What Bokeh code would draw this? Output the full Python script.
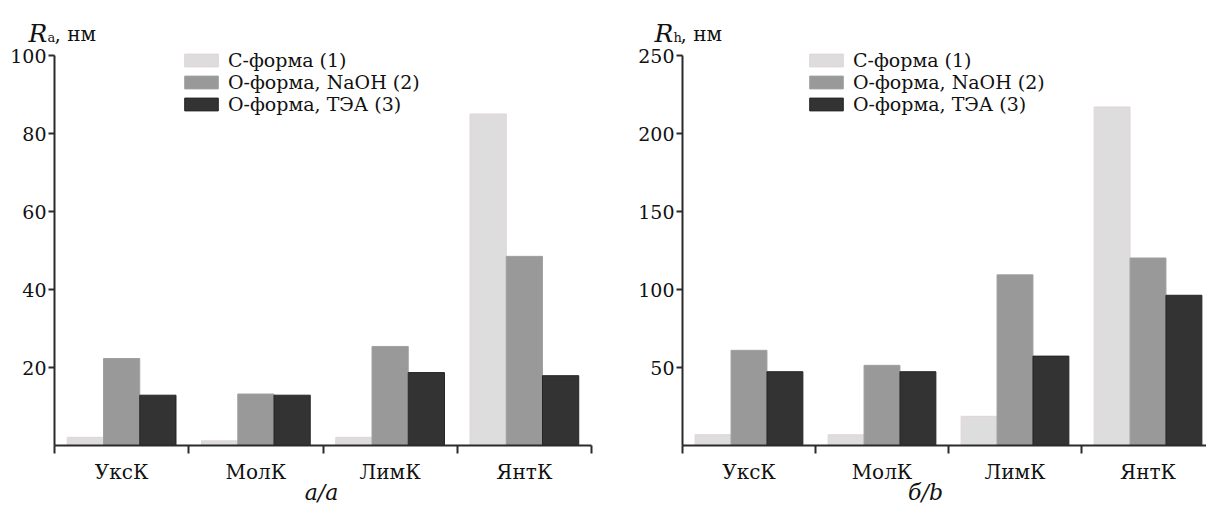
from bokeh.plotting import figure
from bokeh.models import Legend, LegendItem, FixedTicker, Label, Range1d
from bokeh.layouts import row
from bokeh.embed import file_html
from bokeh.resources import INLINE

categories = ["УксК", "МолК", "ЛимК", "ЯнтК"]
series_names = ["С-форма (1)", "О-форма, NaOH (2)", "О-форма, ТЭА (3)"]

ra_c_form = [2.1, 1.2, 2.1, 85.0]
ra_o_naoh = [22.3, 13.2, 25.4, 48.5]
ra_o_tea = [12.9, 12.9, 18.7, 17.9]

rh_c_form = [6.9, 6.9, 18.7, 217.0]
rh_o_naoh = [61.0, 51.4, 109.4, 120.2]
rh_o_tea = [47.3, 47.3, 57.3, 96.3]

ra_ticks = [20, 40, 60, 80, 100]
rh_ticks = [50, 100, 150, 200, 250]

FONT = "DejaVu Serif"
FILLS = ["#dddddd", "#999999", "#333333"]
LINES = ["#e2d4d4", "#a0a0a0", "#262626"]
AX = "#2b2b2b"
TXT = "#111111"

H = 512  # figure height (px)


def make(series, yticks, ymax, W, axis_x, cat_px, sym, sub, caption,
         cap_x, legend_x, r_x):
    # pixel layout inside the figure: zero of y at 445 px from top, ymax at 55 px
    y0_px, ytop_px = 445, 55
    ppu_y = (y0_px - ytop_px) / ymax
    y_start = -(H - y0_px) / ppu_y
    y_end = ymax + ytop_px / ppu_y
    x_start = -axis_x / cat_px
    x_end = (W - axis_x) / cat_px
    ncat = len(categories)

    p = figure(frame_width=W, frame_height=H,
               min_border=0, min_border_left=0, min_border_right=0,
               min_border_top=0, min_border_bottom=0,
               x_range=Range1d(x_start, x_end), y_range=Range1d(y_start, y_end),
               output_backend="svg", toolbar_location=None)
    p.outline_line_color = None
    p.grid.visible = False
    p.background_fill_color = "white"
    p.border_fill_color = "white"

    n = len(series)
    bw = 0.27
    items = []
    for j, (vals, name) in enumerate(zip(series, series_names)):
        xs = [i + 0.5 + (j - (n - 1) / 2) * bw for i in range(ncat)]
        r = p.vbar(x=xs, top=vals, bottom=0, width=bw,
                   fill_color=FILLS[j], line_color=LINES[j], line_width=1)
        items.append(LegendItem(label=name, renderers=[r]))

    ya = p.yaxis[0]
    ya.fixed_location = 0
    ya.bounds = (0, ymax)
    ya.ticker = FixedTicker(ticks=yticks)
    ya.axis_line_width = 2
    ya.axis_line_color = AX
    ya.major_tick_line_color = AX
    ya.major_tick_line_width = 2
    ya.major_tick_out = 6
    ya.major_tick_in = 0
    ya.minor_tick_line_color = None
    ya.major_label_text_font = FONT
    ya.major_label_text_font_size = "19px"
    ya.major_label_text_color = TXT
    ya.major_label_standoff = 2

    xa = p.xaxis[0]
    xa.fixed_location = 0
    xa.bounds = (0, ncat)
    centers = [i + 0.5 for i in range(ncat)]
    bounds = [float(i) for i in range(ncat + 1)]
    xa.ticker = FixedTicker(ticks=centers, minor_ticks=bounds)
    xa.major_label_overrides = {c: name for c, name in zip(centers, categories)}
    xa.axis_line_width = 2
    xa.axis_line_color = AX
    xa.major_tick_line_color = None
    xa.major_tick_out = 0
    xa.major_tick_in = 0
    xa.minor_tick_line_color = AX
    xa.minor_tick_line_width = 2
    xa.minor_tick_out = 8
    xa.minor_tick_in = 0
    xa.major_label_text_font = FONT
    xa.major_label_text_font_size = "20px"
    xa.major_label_text_color = TXT
    xa.major_label_standoff = 6

    legend = Legend(items=items, location=(legend_x, 397),
                    glyph_width=42, glyph_height=16, label_height=16,
                    spacing=0, padding=0, margin=0, label_standoff=6,
                    border_line_color=None, background_fill_alpha=0,
                    label_text_font=FONT, label_text_font_size="19px",
                    label_text_color=TXT)
    p.add_layout(legend, "center")

    p.add_layout(Label(x=r_x, y=479, x_units="screen", y_units="screen",
                       text=sym, text_font=FONT, text_font_style="italic",
                       text_font_size="25px", text_color=TXT,
                       text_baseline="alphabetic"))
    p.add_layout(Label(x=r_x + 19, y=475, x_units="screen", y_units="screen",
                       text=sub, text_font=FONT, text_font_size="13px",
                       text_color=TXT, text_baseline="alphabetic"))
    p.add_layout(Label(x=r_x + 26, y=479, x_units="screen", y_units="screen",
                       text=", нм", text_font=FONT, text_font_size="20px",
                       text_color=TXT, text_baseline="alphabetic"))
    p.add_layout(Label(x=cap_x, y=20, x_units="screen", y_units="screen",
                       text=caption, text_font=FONT, text_font_style="italic",
                       text_font_size="22px", text_color=TXT,
                       text_align="center", text_baseline="middle"))
    return p


p1 = make([ra_c_form, ra_o_naoh, ra_o_tea], ra_ticks, 100,
          604, 54, 134.25, "R", "a", "а/a", 321, 180, 28)
p2 = make([rh_c_form, rh_o_naoh, rh_o_tea], rh_ticks, 250,
          602, 78, 133.0, "R", "h", "б/b", 321, 201, 50)

layout = row(p1, p2, spacing=0)
open("out.html", "w").write(file_html(layout, INLINE))
